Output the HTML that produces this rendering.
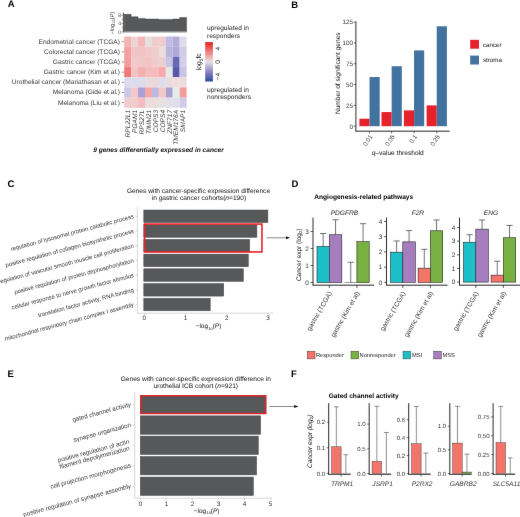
<!DOCTYPE html>
<html><head><meta charset="utf-8"><style>
html,body{margin:0;padding:0;background:#fff;}
svg{display:block;will-change:transform;}
text{font-family:"Liberation Sans",sans-serif;text-rendering:geometricPrecision;}
</style></head><body>
<svg width="520" height="517" viewBox="0 0 520 517">
<defs><filter id="soft" x="0" y="0" width="520" height="517" filterUnits="userSpaceOnUse"><feConvolveMatrix order="3" kernelMatrix="0.00163 0.03713 0.00163 0.03713 0.84497 0.03713 0.00163 0.03713 0.00163" divisor="1" edgeMode="none" preserveAlpha="false"/></filter></defs>
<rect width="520" height="517" fill="#fff"/>
<g filter="url(#soft)">
<text x="7.80" y="6.50" font-size="9.5" text-anchor="start" fill="#000" font-weight="bold">A</text>
<text x="291.20" y="8.20" font-size="9.5" text-anchor="start" fill="#000" font-weight="bold">B</text>
<text x="7.40" y="187.10" font-size="9.5" text-anchor="start" fill="#000" font-weight="bold">C</text>
<text x="291.50" y="187.10" font-size="9.5" text-anchor="start" fill="#000" font-weight="bold">D</text>
<text x="7.60" y="376.90" font-size="9.5" text-anchor="start" fill="#000" font-weight="bold">E</text>
<text x="290.90" y="377.30" font-size="9.5" text-anchor="start" fill="#000" font-weight="bold">F</text>
<rect x="124.20" y="36.55" width="6.98" height="10.23" fill="#f4b4b4"/>
<rect x="131.13" y="36.55" width="6.98" height="10.23" fill="#ecd4d4"/>
<rect x="138.06" y="36.55" width="6.98" height="10.23" fill="#f4b8b8"/>
<rect x="144.99" y="36.55" width="6.98" height="10.23" fill="#e4e0e0"/>
<rect x="151.92" y="36.55" width="6.98" height="10.23" fill="#f0cccc"/>
<rect x="158.85" y="36.55" width="6.98" height="10.23" fill="#f0cccc"/>
<rect x="165.78" y="36.55" width="6.98" height="10.23" fill="#c0bce4"/>
<rect x="172.71" y="36.55" width="6.98" height="10.23" fill="#b4acdc"/>
<rect x="179.64" y="36.55" width="6.98" height="10.23" fill="#dcdcec"/>
<rect x="124.20" y="46.73" width="6.98" height="10.23" fill="#f4a0a0"/>
<rect x="131.13" y="46.73" width="6.98" height="10.23" fill="#f4c4c4"/>
<rect x="138.06" y="46.73" width="6.98" height="10.23" fill="#f0c4c4"/>
<rect x="144.99" y="46.73" width="6.98" height="10.23" fill="#f0c8c8"/>
<rect x="151.92" y="46.73" width="6.98" height="10.23" fill="#f0cccc"/>
<rect x="158.85" y="46.73" width="6.98" height="10.23" fill="#ecdcdc"/>
<rect x="165.78" y="46.73" width="6.98" height="10.23" fill="#b8b4dc"/>
<rect x="172.71" y="46.73" width="6.98" height="10.23" fill="#b0a8d8"/>
<rect x="179.64" y="46.73" width="6.98" height="10.23" fill="#d0cce8"/>
<rect x="124.20" y="56.91" width="6.98" height="10.23" fill="#f49c9c"/>
<rect x="131.13" y="56.91" width="6.98" height="10.23" fill="#f4c8c8"/>
<rect x="138.06" y="56.91" width="6.98" height="10.23" fill="#f0c8c8"/>
<rect x="144.99" y="56.91" width="6.98" height="10.23" fill="#f4c4c4"/>
<rect x="151.92" y="56.91" width="6.98" height="10.23" fill="#f0cccc"/>
<rect x="158.85" y="56.91" width="6.98" height="10.23" fill="#ecd0d0"/>
<rect x="165.78" y="56.91" width="6.98" height="10.23" fill="#c8c4e4"/>
<rect x="172.71" y="56.91" width="6.98" height="10.23" fill="#6868b8"/>
<rect x="179.64" y="56.91" width="6.98" height="10.23" fill="#d4d0ec"/>
<rect x="124.20" y="67.09" width="6.98" height="10.23" fill="#f07878"/>
<rect x="131.13" y="67.09" width="6.98" height="10.23" fill="#f4c4c4"/>
<rect x="138.06" y="67.09" width="6.98" height="10.23" fill="#f4b0b0"/>
<rect x="144.99" y="67.09" width="6.98" height="10.23" fill="#f4bcbc"/>
<rect x="151.92" y="67.09" width="6.98" height="10.23" fill="#f4bcbc"/>
<rect x="158.85" y="67.09" width="6.98" height="10.23" fill="#f8a8a8"/>
<rect x="165.78" y="67.09" width="6.98" height="10.23" fill="#e8e8e8"/>
<rect x="172.71" y="67.09" width="6.98" height="10.23" fill="#5858a8"/>
<rect x="179.64" y="67.09" width="6.98" height="10.23" fill="#c8c4e4"/>
<rect x="124.20" y="77.27" width="6.98" height="10.23" fill="#dcdcec"/>
<rect x="131.13" y="77.27" width="6.98" height="10.23" fill="#dcdcec"/>
<rect x="138.06" y="77.27" width="6.98" height="10.23" fill="#dcdcec"/>
<rect x="144.99" y="77.27" width="6.98" height="10.23" fill="#e8dcdc"/>
<rect x="151.92" y="77.27" width="6.98" height="10.23" fill="#ecd8d8"/>
<rect x="158.85" y="77.27" width="6.98" height="10.23" fill="#dcdcec"/>
<rect x="165.78" y="77.27" width="6.98" height="10.23" fill="#e8dcdc"/>
<rect x="172.71" y="77.27" width="6.98" height="10.23" fill="#f0dcdc"/>
<rect x="179.64" y="77.27" width="6.98" height="10.23" fill="#ecdcdc"/>
<rect x="124.20" y="87.45" width="6.98" height="10.23" fill="#ccc8e8"/>
<rect x="131.13" y="87.45" width="6.98" height="10.23" fill="#f4c8c8"/>
<rect x="138.06" y="87.45" width="6.98" height="10.23" fill="#a8a0d8"/>
<rect x="144.99" y="87.45" width="6.98" height="10.23" fill="#f4a8a8"/>
<rect x="151.92" y="87.45" width="6.98" height="10.23" fill="#c0b8e4"/>
<rect x="158.85" y="87.45" width="6.98" height="10.23" fill="#f4c8c8"/>
<rect x="165.78" y="87.45" width="6.98" height="10.23" fill="#a8a0d0"/>
<rect x="172.71" y="87.45" width="6.98" height="10.23" fill="#e4ece8"/>
<rect x="179.64" y="87.45" width="6.98" height="10.23" fill="#f49c9c"/>
<rect x="124.20" y="97.63" width="6.98" height="10.23" fill="#f0cccc"/>
<rect x="131.13" y="97.63" width="6.98" height="10.23" fill="#f0cccc"/>
<rect x="138.06" y="97.63" width="6.98" height="10.23" fill="#f4bcbc"/>
<rect x="144.99" y="97.63" width="6.98" height="10.23" fill="#ecdcdc"/>
<rect x="151.92" y="97.63" width="6.98" height="10.23" fill="#ecdcdc"/>
<rect x="158.85" y="97.63" width="6.98" height="10.23" fill="#e8e0e0"/>
<rect x="165.78" y="97.63" width="6.98" height="10.23" fill="#e4e0e8"/>
<rect x="172.71" y="97.63" width="6.98" height="10.23" fill="#e0e0ec"/>
<rect x="179.64" y="97.63" width="6.98" height="10.23" fill="#d0cce8"/>
<text x="119.90" y="43.59" font-size="6.6" text-anchor="end" fill="#383838">Endometrial cancer (TCGA)</text>
<line x1="121.90" y1="41.64" x2="124.00" y2="41.64" stroke="#444" stroke-width="0.6"/>
<text x="119.90" y="53.77" font-size="6.6" text-anchor="end" fill="#383838">Colorectal cancer (TCGA)</text>
<line x1="121.90" y1="51.82" x2="124.00" y2="51.82" stroke="#444" stroke-width="0.6"/>
<text x="119.90" y="63.95" font-size="6.6" text-anchor="end" fill="#383838">Gastric cancer (TCGA)</text>
<line x1="121.90" y1="62.00" x2="124.00" y2="62.00" stroke="#444" stroke-width="0.6"/>
<text x="119.90" y="74.13" font-size="6.6" text-anchor="end" fill="#383838">Gastric cancer (Kim et al.)</text>
<line x1="121.90" y1="72.18" x2="124.00" y2="72.18" stroke="#444" stroke-width="0.6"/>
<text x="119.90" y="84.31" font-size="6.6" text-anchor="end" fill="#383838">Urothelial cancer (Mariathasan et al.)</text>
<line x1="121.90" y1="82.36" x2="124.00" y2="82.36" stroke="#444" stroke-width="0.6"/>
<text x="119.90" y="94.49" font-size="6.6" text-anchor="end" fill="#383838">Melanoma (Gide et al.)</text>
<line x1="121.90" y1="92.54" x2="124.00" y2="92.54" stroke="#444" stroke-width="0.6"/>
<text x="119.90" y="104.67" font-size="6.6" text-anchor="end" fill="#383838">Melanoma (Liu et al.)</text>
<line x1="121.90" y1="102.72" x2="124.00" y2="102.72" stroke="#444" stroke-width="0.6"/>
<text x="129.97" y="109.90" font-size="6.6" text-anchor="end" fill="#383838" font-style="italic" transform="rotate(-90 129.97 109.90)">RPL22L1</text>
<text x="136.90" y="109.90" font-size="6.6" text-anchor="end" fill="#383838" font-style="italic" transform="rotate(-90 136.90 109.90)">PGAM1</text>
<text x="143.83" y="109.90" font-size="6.6" text-anchor="end" fill="#383838" font-style="italic" transform="rotate(-90 143.83 109.90)">RPS27L</text>
<text x="150.76" y="109.90" font-size="6.6" text-anchor="end" fill="#383838" font-style="italic" transform="rotate(-90 150.76 109.90)">TIMM21</text>
<text x="157.69" y="109.90" font-size="6.6" text-anchor="end" fill="#383838" font-style="italic" transform="rotate(-90 157.69 109.90)">COPS3</text>
<text x="164.62" y="109.90" font-size="6.6" text-anchor="end" fill="#383838" font-style="italic" transform="rotate(-90 164.62 109.90)">COPS4</text>
<text x="171.55" y="109.90" font-size="6.6" text-anchor="end" fill="#383838" font-style="italic" transform="rotate(-90 171.55 109.90)">ZNF717</text>
<text x="178.48" y="109.90" font-size="6.6" text-anchor="end" fill="#383838" font-style="italic" transform="rotate(-90 178.48 109.90)">TMEM176A</text>
<text x="185.41" y="109.90" font-size="6.6" text-anchor="end" fill="#383838" font-style="italic" transform="rotate(-90 185.41 109.90)">SMAP1</text>
<polygon points="124.20,31.90 124.20,14.32 131.13,14.32 131.13,16.82 138.06,16.82 138.06,18.38 144.99,18.38 144.99,19.00 151.92,19.00 151.92,19.00 158.85,19.00 158.85,19.42 165.78,19.42 165.78,19.42 172.71,19.42 172.71,19.00 179.64,19.00 179.64,17.55 186.57,17.55 186.57,31.90" fill="#57585a" stroke="#333" stroke-width="0.4"/>
<line x1="124.20" y1="31.70" x2="186.57" y2="31.70" stroke="#8a8a8a" stroke-width="1.3"/>
<line x1="123.40" y1="12.80" x2="123.40" y2="32.50" stroke="#222" stroke-width="0.8"/>
<line x1="121.60" y1="31.90" x2="123.40" y2="31.90" stroke="#444" stroke-width="0.5"/>
<line x1="121.60" y1="27.74" x2="123.40" y2="27.74" stroke="#444" stroke-width="0.5"/>
<line x1="121.60" y1="23.58" x2="123.40" y2="23.58" stroke="#444" stroke-width="0.5"/>
<line x1="121.60" y1="19.42" x2="123.40" y2="19.42" stroke="#444" stroke-width="0.5"/>
<line x1="121.60" y1="15.26" x2="123.40" y2="15.26" stroke="#444" stroke-width="0.5"/>
<text x="121.00" y="33.70" font-size="5.0" text-anchor="end" fill="#383838">0</text>
<text x="121.00" y="25.38" font-size="5.0" text-anchor="end" fill="#383838">4</text>
<text x="121.00" y="17.06" font-size="5.0" text-anchor="end" fill="#383838">8</text>
<text x="113.90" y="23.20" font-size="5.6" text-anchor="middle" fill="#383838" transform="rotate(-90 113.90 23.20)">−log<tspan font-size="4" dy="1.2">10</tspan><tspan dy="-1.2">(</tspan><tspan font-style="italic">P</tspan>)</text>
<text x="158.50" y="151.90" font-size="6.6" text-anchor="middle" fill="#111" font-weight="bold" font-style="italic">9 genes differentially expressed in cancer</text>
<text x="207.00" y="30.00" font-size="6.6" text-anchor="start" fill="#1e1e1e">upregulated in</text>
<text x="207.00" y="37.70" font-size="6.6" text-anchor="start" fill="#1e1e1e">responders</text>
<text x="207.00" y="91.90" font-size="6.6" text-anchor="start" fill="#1e1e1e">upregulated in</text>
<text x="207.00" y="99.30" font-size="6.6" text-anchor="start" fill="#1e1e1e">nonresponders</text>
<defs><linearGradient id="cb" x1="0" y1="0" x2="0" y2="1"><stop offset="0" stop-color="#e41f22"/><stop offset="0.25" stop-color="#ee8080"/><stop offset="0.5" stop-color="#e8e0e4"/><stop offset="0.75" stop-color="#8c84c4"/><stop offset="1" stop-color="#2f4aa0"/></linearGradient></defs>
<rect x="205.20" y="42.10" width="7.70" height="39.40" fill="url(#cb)"/>
<text x="220.20" y="48.70" font-size="6.6" text-anchor="middle" fill="#222" transform="rotate(-90 220.20 48.70)">4</text>
<text x="220.20" y="61.80" font-size="6.6" text-anchor="middle" fill="#222" transform="rotate(-90 220.20 61.80)">0</text>
<text x="220.20" y="76.60" font-size="6.6" text-anchor="middle" fill="#222" transform="rotate(-90 220.20 76.60)">−4</text>
<text x="201.20" y="61.80" font-size="6.8" text-anchor="middle" fill="#111" transform="rotate(-90 201.20 61.80)">log<tspan font-size="4.8" dy="1.4">2</tspan><tspan dy="-1.4">fc</tspan></text>
<line x1="355.90" y1="21.50" x2="355.90" y2="131.20" stroke="#151515" stroke-width="0.9"/>
<line x1="355.45" y1="131.20" x2="449.70" y2="131.20" stroke="#151515" stroke-width="0.9"/>
<line x1="353.70" y1="126.20" x2="355.90" y2="126.20" stroke="#151515" stroke-width="0.6"/>
<text x="353.10" y="128.50" font-size="6.35" text-anchor="end" fill="#383838">0</text>
<line x1="353.70" y1="105.38" x2="355.90" y2="105.38" stroke="#151515" stroke-width="0.6"/>
<text x="353.10" y="107.68" font-size="6.35" text-anchor="end" fill="#383838">25</text>
<line x1="353.70" y1="84.56" x2="355.90" y2="84.56" stroke="#151515" stroke-width="0.6"/>
<text x="353.10" y="86.86" font-size="6.35" text-anchor="end" fill="#383838">50</text>
<line x1="353.70" y1="63.74" x2="355.90" y2="63.74" stroke="#151515" stroke-width="0.6"/>
<text x="353.10" y="66.04" font-size="6.35" text-anchor="end" fill="#383838">75</text>
<line x1="353.70" y1="42.92" x2="355.90" y2="42.92" stroke="#151515" stroke-width="0.6"/>
<text x="353.10" y="45.22" font-size="6.35" text-anchor="end" fill="#383838">100</text>
<line x1="353.70" y1="22.10" x2="355.90" y2="22.10" stroke="#151515" stroke-width="0.6"/>
<text x="353.10" y="24.40" font-size="6.35" text-anchor="end" fill="#383838">125</text>
<rect x="359.40" y="118.70" width="10.15" height="7.50" fill="#e7212b"/>
<rect x="369.55" y="77.06" width="10.15" height="49.14" fill="#42729f"/>
<rect x="381.50" y="112.04" width="10.15" height="14.16" fill="#e7212b"/>
<rect x="391.65" y="66.24" width="10.15" height="59.96" fill="#42729f"/>
<rect x="403.90" y="110.38" width="10.15" height="15.82" fill="#e7212b"/>
<rect x="414.05" y="50.42" width="10.15" height="75.78" fill="#42729f"/>
<rect x="426.60" y="105.38" width="10.15" height="20.82" fill="#e7212b"/>
<rect x="436.75" y="26.26" width="10.15" height="99.94" fill="#42729f"/>
<line x1="369.55" y1="131.20" x2="369.55" y2="133.40" stroke="#151515" stroke-width="0.6"/>
<text x="372.95" y="136.60" font-size="6.2" text-anchor="end" fill="#383838" transform="rotate(-56 372.95 136.60)">0.01</text>
<line x1="391.65" y1="131.20" x2="391.65" y2="133.40" stroke="#151515" stroke-width="0.6"/>
<text x="395.05" y="136.60" font-size="6.2" text-anchor="end" fill="#383838" transform="rotate(-56 395.05 136.60)">0.05</text>
<line x1="414.05" y1="131.20" x2="414.05" y2="133.40" stroke="#151515" stroke-width="0.6"/>
<text x="417.45" y="136.60" font-size="6.2" text-anchor="end" fill="#383838" transform="rotate(-56 417.45 136.60)">0.1</text>
<line x1="436.75" y1="131.20" x2="436.75" y2="133.40" stroke="#151515" stroke-width="0.6"/>
<text x="440.15" y="136.60" font-size="6.2" text-anchor="end" fill="#383838" transform="rotate(-56 440.15 136.60)">0.25</text>
<text x="397.70" y="154.60" font-size="6.6" text-anchor="middle" fill="#111"><tspan font-style="italic">q</tspan>–value threshold</text>
<text x="339.80" y="73.20" font-size="6.6" text-anchor="middle" fill="#111" transform="rotate(-90 339.80 73.20)">Number of significant genes</text>
<rect x="470.20" y="39.80" width="8.80" height="8.90" fill="#e7212b"/>
<rect x="470.20" y="55.60" width="8.80" height="8.90" fill="#42729f"/>
<text x="483.00" y="46.50" font-size="6.2" text-anchor="start" fill="#111">cancer</text>
<text x="483.00" y="62.30" font-size="6.2" text-anchor="start" fill="#111">stroma</text>
<line x1="137.40" y1="207.40" x2="137.40" y2="313.20" stroke="#bdbdbd" stroke-width="0.6"/>
<line x1="137.40" y1="313.20" x2="273.60" y2="313.20" stroke="#bdbdbd" stroke-width="0.6"/>
<rect x="143.80" y="210.00" width="124.10" height="12.60" fill="#57585a" stroke="#48494b" stroke-width="0.5"/>
<line x1="135.60" y1="216.30" x2="137.40" y2="216.30" stroke="#bdbdbd" stroke-width="0.6"/>
<text x="134.20" y="218.10" font-size="5.9" text-anchor="end" fill="#383838" transform="rotate(-15 134.20 218.10)">regulation of lysosomal protein catabolic process</text>
<rect x="143.80" y="224.70" width="113.10" height="12.60" fill="#57585a" stroke="#48494b" stroke-width="0.5"/>
<line x1="135.60" y1="231.00" x2="137.40" y2="231.00" stroke="#bdbdbd" stroke-width="0.6"/>
<text x="134.20" y="232.80" font-size="5.9" text-anchor="end" fill="#383838" transform="rotate(-15 134.20 232.80)">positive regulation of collagen biosynthetic process</text>
<rect x="143.80" y="239.40" width="105.90" height="12.60" fill="#57585a" stroke="#48494b" stroke-width="0.5"/>
<line x1="135.60" y1="245.70" x2="137.40" y2="245.70" stroke="#bdbdbd" stroke-width="0.6"/>
<text x="134.20" y="247.50" font-size="5.9" text-anchor="end" fill="#383838" transform="rotate(-15 134.20 247.50)">regulation of vascular smooth muscle cell proliferation</text>
<rect x="143.80" y="254.10" width="104.50" height="12.60" fill="#57585a" stroke="#48494b" stroke-width="0.5"/>
<line x1="135.60" y1="260.40" x2="137.40" y2="260.40" stroke="#bdbdbd" stroke-width="0.6"/>
<text x="134.20" y="262.20" font-size="5.9" text-anchor="end" fill="#383838" transform="rotate(-15 134.20 262.20)">positive regulation of protein dephosphorylation</text>
<rect x="143.80" y="268.80" width="99.60" height="12.60" fill="#57585a" stroke="#48494b" stroke-width="0.5"/>
<line x1="135.60" y1="275.10" x2="137.40" y2="275.10" stroke="#bdbdbd" stroke-width="0.6"/>
<text x="134.20" y="276.90" font-size="5.9" text-anchor="end" fill="#383838" transform="rotate(-15 134.20 276.90)">cellular response to nerve growth factor stimulus</text>
<rect x="143.80" y="283.50" width="79.90" height="12.60" fill="#57585a" stroke="#48494b" stroke-width="0.5"/>
<line x1="135.60" y1="289.80" x2="137.40" y2="289.80" stroke="#bdbdbd" stroke-width="0.6"/>
<text x="134.20" y="291.60" font-size="5.9" text-anchor="end" fill="#383838" transform="rotate(-15 134.20 291.60)">translation factor activity, RNA binding</text>
<rect x="143.80" y="298.20" width="66.40" height="12.60" fill="#57585a" stroke="#48494b" stroke-width="0.5"/>
<line x1="135.60" y1="304.50" x2="137.40" y2="304.50" stroke="#bdbdbd" stroke-width="0.6"/>
<text x="134.20" y="306.30" font-size="5.9" text-anchor="end" fill="#383838" transform="rotate(-15 134.20 306.30)">mitochondrial respiratory chain complex I assembly</text>
<line x1="144.40" y1="313.20" x2="144.40" y2="315.00" stroke="#bdbdbd" stroke-width="0.6"/>
<text x="144.40" y="320.20" font-size="6.4" text-anchor="middle" fill="#383838">0</text>
<line x1="185.60" y1="313.20" x2="185.60" y2="315.00" stroke="#bdbdbd" stroke-width="0.6"/>
<text x="185.60" y="320.20" font-size="6.4" text-anchor="middle" fill="#383838">1</text>
<line x1="226.80" y1="313.20" x2="226.80" y2="315.00" stroke="#bdbdbd" stroke-width="0.6"/>
<text x="226.80" y="320.20" font-size="6.4" text-anchor="middle" fill="#383838">2</text>
<line x1="268.00" y1="313.20" x2="268.00" y2="315.00" stroke="#bdbdbd" stroke-width="0.6"/>
<text x="268.00" y="320.20" font-size="6.4" text-anchor="middle" fill="#383838">3</text>
<text x="208.50" y="327.80" font-size="6.4" text-anchor="middle" fill="#111">−log<tspan font-size="3.9" dx="0.4" dy="1.9">10</tspan><tspan dy="-1.9">(</tspan><tspan font-style="italic">P</tspan>)</text>
<text x="198.50" y="192.90" font-size="6.6" text-anchor="middle" fill="#111">Genes with cancer-specific expression difference</text>
<text x="198.90" y="199.70" font-size="6.6" text-anchor="middle" fill="#111">in gastric cancer cohorts(<tspan font-style="italic">n</tspan>=190)</text>
<rect x="144.55" y="224.05" width="117.4" height="27.9" fill="none" stroke="#ec1c24" stroke-width="1.55"/>
<defs><marker id="ah" markerWidth="6" markerHeight="6" refX="3.8" refY="3" orient="auto" markerUnits="userSpaceOnUse"><path d="M0,1.4 L4.0,3 L0,4.6 z" fill="#111"/></marker></defs>
<line x1="266.5" y1="237.8" x2="289.4" y2="237.8" stroke="#666" stroke-width="0.75" marker-end="url(#ah)"/>
<text x="314.25" y="198.50" font-size="6.6" text-anchor="start" fill="#000" font-weight="bold">Angiogenesis-related pathways</text>
<line x1="313.00" y1="217.60" x2="313.00" y2="285.20" stroke="#151515" stroke-width="0.9"/>
<line x1="312.55" y1="285.20" x2="374.00" y2="285.20" stroke="#151515" stroke-width="0.9"/>
<line x1="310.60" y1="282.50" x2="313.00" y2="282.50" stroke="#151515" stroke-width="0.7"/>
<text x="308.70" y="284.80" font-size="6.4" text-anchor="end" fill="#383838">0</text>
<line x1="310.60" y1="265.50" x2="313.00" y2="265.50" stroke="#151515" stroke-width="0.7"/>
<text x="308.70" y="267.80" font-size="6.4" text-anchor="end" fill="#383838">1</text>
<line x1="310.60" y1="248.50" x2="313.00" y2="248.50" stroke="#151515" stroke-width="0.7"/>
<text x="308.70" y="250.80" font-size="6.4" text-anchor="end" fill="#383838">2</text>
<line x1="310.60" y1="231.50" x2="313.00" y2="231.50" stroke="#151515" stroke-width="0.7"/>
<text x="308.70" y="233.80" font-size="6.4" text-anchor="end" fill="#383838">3</text>
<line x1="323.15" y1="246.46" x2="323.15" y2="233.54" stroke="#3a3a3a" stroke-width="0.7"/>
<line x1="320.05" y1="233.54" x2="326.25" y2="233.54" stroke="#3a3a3a" stroke-width="0.7"/>
<rect x="317.00" y="246.46" width="12.30" height="36.04" fill="#1cbfc7" stroke="#222" stroke-width="0.6"/>
<line x1="335.55" y1="234.73" x2="335.55" y2="219.77" stroke="#3a3a3a" stroke-width="0.7"/>
<line x1="332.45" y1="219.77" x2="338.65" y2="219.77" stroke="#3a3a3a" stroke-width="0.7"/>
<rect x="329.30" y="234.73" width="12.50" height="47.77" fill="#a67ebf" stroke="#222" stroke-width="0.6"/>
<line x1="350.75" y1="282.50" x2="350.75" y2="262.27" stroke="#3a3a3a" stroke-width="0.7"/>
<line x1="347.65" y1="262.27" x2="353.85" y2="262.27" stroke="#3a3a3a" stroke-width="0.7"/>
<line x1="344.60" y1="282.50" x2="356.90" y2="282.50" stroke="#222" stroke-width="0.45"/>
<line x1="363.05" y1="241.70" x2="363.05" y2="223.68" stroke="#3a3a3a" stroke-width="0.7"/>
<line x1="359.95" y1="223.68" x2="366.15" y2="223.68" stroke="#3a3a3a" stroke-width="0.7"/>
<rect x="356.90" y="241.70" width="12.30" height="40.80" fill="#78b042" stroke="#222" stroke-width="0.6"/>
<text x="344.40" y="215.30" font-size="6.6" text-anchor="middle" fill="#222" font-style="italic">PDGFRB</text>
<line x1="329.30" y1="285.20" x2="329.30" y2="287.90" stroke="#151515" stroke-width="0.7"/>
<text x="332.20" y="293.20" font-size="6.6" text-anchor="end" fill="#383838" transform="rotate(-60 332.20 293.20)">gastric (TCGA)</text>
<line x1="356.90" y1="285.20" x2="356.90" y2="287.90" stroke="#151515" stroke-width="0.7"/>
<text x="359.80" y="293.20" font-size="6.6" text-anchor="end" fill="#383838" transform="rotate(-60 359.80 293.20)">gastric (Kim et al)</text>
<line x1="386.50" y1="217.60" x2="386.50" y2="285.20" stroke="#151515" stroke-width="0.9"/>
<line x1="386.05" y1="285.20" x2="447.50" y2="285.20" stroke="#151515" stroke-width="0.9"/>
<line x1="384.10" y1="282.30" x2="386.50" y2="282.30" stroke="#151515" stroke-width="0.7"/>
<text x="382.20" y="284.60" font-size="6.4" text-anchor="end" fill="#383838">0</text>
<line x1="384.10" y1="267.10" x2="386.50" y2="267.10" stroke="#151515" stroke-width="0.7"/>
<text x="382.20" y="269.40" font-size="6.4" text-anchor="end" fill="#383838">1</text>
<line x1="384.10" y1="251.90" x2="386.50" y2="251.90" stroke="#151515" stroke-width="0.7"/>
<text x="382.20" y="254.20" font-size="6.4" text-anchor="end" fill="#383838">2</text>
<line x1="384.10" y1="236.70" x2="386.50" y2="236.70" stroke="#151515" stroke-width="0.7"/>
<text x="382.20" y="239.00" font-size="6.4" text-anchor="end" fill="#383838">3</text>
<line x1="384.10" y1="221.50" x2="386.50" y2="221.50" stroke="#151515" stroke-width="0.7"/>
<text x="382.20" y="223.80" font-size="6.4" text-anchor="end" fill="#383838">4</text>
<line x1="396.65" y1="252.20" x2="396.65" y2="240.96" stroke="#3a3a3a" stroke-width="0.7"/>
<line x1="393.55" y1="240.96" x2="399.75" y2="240.96" stroke="#3a3a3a" stroke-width="0.7"/>
<rect x="390.50" y="252.20" width="12.30" height="30.10" fill="#1cbfc7" stroke="#222" stroke-width="0.6"/>
<line x1="409.05" y1="241.87" x2="409.05" y2="230.62" stroke="#3a3a3a" stroke-width="0.7"/>
<line x1="405.95" y1="230.62" x2="412.15" y2="230.62" stroke="#3a3a3a" stroke-width="0.7"/>
<rect x="402.80" y="241.87" width="12.50" height="40.43" fill="#a67ebf" stroke="#222" stroke-width="0.6"/>
<line x1="424.25" y1="268.16" x2="424.25" y2="249.32" stroke="#3a3a3a" stroke-width="0.7"/>
<line x1="421.15" y1="249.32" x2="427.35" y2="249.32" stroke="#3a3a3a" stroke-width="0.7"/>
<rect x="418.10" y="268.16" width="12.30" height="14.14" fill="#f3746b" stroke="#222" stroke-width="0.6"/>
<line x1="436.55" y1="230.77" x2="436.55" y2="219.98" stroke="#3a3a3a" stroke-width="0.7"/>
<line x1="433.45" y1="219.98" x2="439.65" y2="219.98" stroke="#3a3a3a" stroke-width="0.7"/>
<rect x="430.40" y="230.77" width="12.30" height="51.53" fill="#78b042" stroke="#222" stroke-width="0.6"/>
<text x="417.90" y="215.30" font-size="6.6" text-anchor="middle" fill="#222" font-style="italic">F2R</text>
<line x1="402.80" y1="285.20" x2="402.80" y2="287.90" stroke="#151515" stroke-width="0.7"/>
<text x="405.70" y="293.20" font-size="6.6" text-anchor="end" fill="#383838" transform="rotate(-60 405.70 293.20)">gastric (TCGA)</text>
<line x1="430.40" y1="285.20" x2="430.40" y2="287.90" stroke="#151515" stroke-width="0.7"/>
<text x="433.30" y="293.20" font-size="6.6" text-anchor="end" fill="#383838" transform="rotate(-60 433.30 293.20)">gastric (Kim et al)</text>
<line x1="459.50" y1="217.60" x2="459.50" y2="285.20" stroke="#151515" stroke-width="0.9"/>
<line x1="459.05" y1="285.20" x2="520.00" y2="285.20" stroke="#151515" stroke-width="0.9"/>
<line x1="457.10" y1="282.10" x2="459.50" y2="282.10" stroke="#151515" stroke-width="0.7"/>
<text x="455.20" y="284.40" font-size="6.4" text-anchor="end" fill="#383838">0</text>
<line x1="457.10" y1="268.45" x2="459.50" y2="268.45" stroke="#151515" stroke-width="0.7"/>
<text x="455.20" y="270.75" font-size="6.4" text-anchor="end" fill="#383838">1</text>
<line x1="457.10" y1="254.80" x2="459.50" y2="254.80" stroke="#151515" stroke-width="0.7"/>
<text x="455.20" y="257.10" font-size="6.4" text-anchor="end" fill="#383838">2</text>
<line x1="457.10" y1="241.15" x2="459.50" y2="241.15" stroke="#151515" stroke-width="0.7"/>
<text x="455.20" y="243.45" font-size="6.4" text-anchor="end" fill="#383838">3</text>
<line x1="457.10" y1="227.50" x2="459.50" y2="227.50" stroke="#151515" stroke-width="0.7"/>
<text x="455.20" y="229.80" font-size="6.4" text-anchor="end" fill="#383838">4</text>
<line x1="469.65" y1="242.24" x2="469.65" y2="234.73" stroke="#3a3a3a" stroke-width="0.7"/>
<line x1="466.55" y1="234.73" x2="472.75" y2="234.73" stroke="#3a3a3a" stroke-width="0.7"/>
<rect x="463.50" y="242.24" width="12.30" height="39.86" fill="#1cbfc7" stroke="#222" stroke-width="0.6"/>
<line x1="482.05" y1="229.14" x2="482.05" y2="219.99" stroke="#3a3a3a" stroke-width="0.7"/>
<line x1="478.95" y1="219.99" x2="485.15" y2="219.99" stroke="#3a3a3a" stroke-width="0.7"/>
<rect x="475.80" y="229.14" width="12.50" height="52.96" fill="#a67ebf" stroke="#222" stroke-width="0.6"/>
<line x1="497.25" y1="275.14" x2="497.25" y2="261.22" stroke="#3a3a3a" stroke-width="0.7"/>
<line x1="494.15" y1="261.22" x2="500.35" y2="261.22" stroke="#3a3a3a" stroke-width="0.7"/>
<rect x="491.10" y="275.14" width="12.30" height="6.96" fill="#f3746b" stroke="#222" stroke-width="0.6"/>
<line x1="509.55" y1="237.74" x2="509.55" y2="225.45" stroke="#3a3a3a" stroke-width="0.7"/>
<line x1="506.45" y1="225.45" x2="512.65" y2="225.45" stroke="#3a3a3a" stroke-width="0.7"/>
<rect x="503.40" y="237.74" width="12.30" height="44.36" fill="#78b042" stroke="#222" stroke-width="0.6"/>
<text x="490.90" y="215.30" font-size="6.6" text-anchor="middle" fill="#222" font-style="italic">ENG</text>
<line x1="475.80" y1="285.20" x2="475.80" y2="287.90" stroke="#151515" stroke-width="0.7"/>
<text x="478.70" y="293.20" font-size="6.6" text-anchor="end" fill="#383838" transform="rotate(-60 478.70 293.20)">gastric (TCGA)</text>
<line x1="503.40" y1="285.20" x2="503.40" y2="287.90" stroke="#151515" stroke-width="0.7"/>
<text x="506.30" y="293.20" font-size="6.6" text-anchor="end" fill="#383838" transform="rotate(-60 506.30 293.20)">gastric (Kim et al)</text>
<text x="300.60" y="254.80" font-size="6.5" text-anchor="middle" fill="#111" transform="rotate(-90 300.60 254.80)">Cancer expr (log<tspan font-size="4.3" dy="1.3">2</tspan><tspan dy="-1.3">)</tspan></text>
<rect x="307.30" y="351.20" width="7.70" height="7.70" fill="#f3746b" stroke="#333" stroke-width="0.45"/>
<text x="316.00" y="357.30" font-size="5.7" text-anchor="start" fill="#222">Responder</text>
<rect x="351.00" y="351.20" width="7.70" height="7.70" fill="#78b042" stroke="#333" stroke-width="0.45"/>
<text x="359.60" y="357.30" font-size="5.7" text-anchor="start" fill="#222">Nonresponder</text>
<rect x="403.00" y="351.20" width="7.70" height="7.70" fill="#1cbfc7" stroke="#333" stroke-width="0.45"/>
<text x="411.90" y="357.30" font-size="5.7" text-anchor="start" fill="#222">MSI</text>
<rect x="433.70" y="351.20" width="7.70" height="7.70" fill="#a67ebf" stroke="#333" stroke-width="0.45"/>
<text x="442.50" y="357.30" font-size="5.7" text-anchor="start" fill="#222">MSS</text>
<line x1="134.70" y1="392.20" x2="134.70" y2="498.20" stroke="#bdbdbd" stroke-width="0.6"/>
<line x1="134.70" y1="498.20" x2="272.00" y2="498.20" stroke="#bdbdbd" stroke-width="0.6"/>
<rect x="140.30" y="395.45" width="125.80" height="18.40" fill="#57585a" stroke="#48494b" stroke-width="0.5"/>
<line x1="132.90" y1="404.65" x2="134.70" y2="404.65" stroke="#bdbdbd" stroke-width="0.6"/>
<text x="131.40" y="406.25" font-size="6.3" text-anchor="end" fill="#383838" transform="rotate(-15 131.40 406.25)">gated channel activity</text>
<rect x="140.30" y="415.85" width="120.30" height="18.40" fill="#57585a" stroke="#48494b" stroke-width="0.5"/>
<line x1="132.90" y1="425.05" x2="134.70" y2="425.05" stroke="#bdbdbd" stroke-width="0.6"/>
<text x="131.40" y="426.65" font-size="6.3" text-anchor="end" fill="#383838" transform="rotate(-15 131.40 426.65)">synapse organization</text>
<rect x="140.30" y="436.10" width="118.00" height="18.40" fill="#57585a" stroke="#48494b" stroke-width="0.5"/>
<line x1="132.90" y1="445.30" x2="134.70" y2="445.30" stroke="#bdbdbd" stroke-width="0.6"/>
<rect x="140.30" y="456.50" width="116.30" height="18.40" fill="#57585a" stroke="#48494b" stroke-width="0.5"/>
<line x1="132.90" y1="465.70" x2="134.70" y2="465.70" stroke="#bdbdbd" stroke-width="0.6"/>
<text x="131.40" y="467.30" font-size="6.3" text-anchor="end" fill="#383838" transform="rotate(-15 131.40 467.30)">cell projection morphogenesis</text>
<rect x="140.30" y="477.05" width="113.10" height="18.40" fill="#57585a" stroke="#48494b" stroke-width="0.5"/>
<line x1="132.90" y1="486.25" x2="134.70" y2="486.25" stroke="#bdbdbd" stroke-width="0.6"/>
<text x="131.40" y="487.85" font-size="6.3" text-anchor="end" fill="#383838" transform="rotate(-15 131.40 487.85)">positive regulation of synapse assembly</text>
<text x="131.40" y="486.25" font-size="6.3" text-anchor="start" fill="#383838"></text>
<text x="129.60" y="443.30" font-size="6.4" text-anchor="end" fill="#383838" transform="rotate(-15 129.60 443.30)">positive regulation of actin</text>
<text x="130.00" y="450.10" font-size="6.4" text-anchor="end" fill="#383838" transform="rotate(-15 130.00 450.10)">filament depolymerization</text>
<line x1="140.60" y1="498.20" x2="140.60" y2="500.00" stroke="#bdbdbd" stroke-width="0.6"/>
<text x="140.60" y="506.00" font-size="6.4" text-anchor="middle" fill="#383838">0</text>
<line x1="166.60" y1="498.20" x2="166.60" y2="500.00" stroke="#bdbdbd" stroke-width="0.6"/>
<text x="166.60" y="506.00" font-size="6.4" text-anchor="middle" fill="#383838">1</text>
<line x1="192.60" y1="498.20" x2="192.60" y2="500.00" stroke="#bdbdbd" stroke-width="0.6"/>
<text x="192.60" y="506.00" font-size="6.4" text-anchor="middle" fill="#383838">2</text>
<line x1="218.60" y1="498.20" x2="218.60" y2="500.00" stroke="#bdbdbd" stroke-width="0.6"/>
<text x="218.60" y="506.00" font-size="6.4" text-anchor="middle" fill="#383838">3</text>
<line x1="244.60" y1="498.20" x2="244.60" y2="500.00" stroke="#bdbdbd" stroke-width="0.6"/>
<text x="244.60" y="506.00" font-size="6.4" text-anchor="middle" fill="#383838">4</text>
<line x1="270.60" y1="498.20" x2="270.60" y2="500.00" stroke="#bdbdbd" stroke-width="0.6"/>
<text x="270.60" y="506.00" font-size="6.4" text-anchor="middle" fill="#383838">5</text>
<text x="206.60" y="512.50" font-size="6.4" text-anchor="middle" fill="#111">−log<tspan font-size="3.9" dx="0.4" dy="1.9">10</tspan><tspan dy="-1.9">(</tspan><tspan font-style="italic">P</tspan>)</text>
<text x="195.80" y="380.90" font-size="6.6" text-anchor="middle" fill="#111">Genes with cancer-specific expression difference in</text>
<text x="195.80" y="387.70" font-size="6.6" text-anchor="middle" fill="#111">urothelial ICB cohort (<tspan font-style="italic">n</tspan>=921)</text>
<rect x="140.9" y="395.8" width="124.6" height="17.7" fill="none" stroke="#ec1c24" stroke-width="1.3"/>
<line x1="269.4" y1="406.5" x2="298.0" y2="406.5" stroke="#666" stroke-width="0.75" marker-end="url(#ah)"/>
<text x="328.70" y="397.50" font-size="6.6" text-anchor="start" fill="#000" font-weight="bold">Gated channel activity</text>
<line x1="328.70" y1="403.20" x2="328.70" y2="474.60" stroke="#151515" stroke-width="0.9"/>
<line x1="328.25" y1="474.40" x2="350.70" y2="474.40" stroke="#151515" stroke-width="0.8"/>
<line x1="326.70" y1="473.40" x2="328.70" y2="473.40" stroke="#151515" stroke-width="0.6"/>
<text x="325.10" y="475.50" font-size="6.0" text-anchor="end" fill="#383838">0.0</text>
<line x1="326.70" y1="447.80" x2="328.70" y2="447.80" stroke="#151515" stroke-width="0.6"/>
<text x="325.10" y="449.90" font-size="6.0" text-anchor="end" fill="#383838">0.1</text>
<line x1="326.70" y1="422.20" x2="328.70" y2="422.20" stroke="#151515" stroke-width="0.6"/>
<text x="325.10" y="424.30" font-size="6.0" text-anchor="end" fill="#383838">0.2</text>
<line x1="336.35" y1="446.78" x2="336.35" y2="406.84" stroke="#4a4a4a" stroke-width="0.6"/>
<line x1="333.95" y1="406.84" x2="338.75" y2="406.84" stroke="#4a4a4a" stroke-width="0.6"/>
<rect x="331.60" y="446.78" width="9.50" height="26.62" fill="#f3746b" stroke="#333" stroke-width="0.45"/>
<line x1="345.85" y1="473.40" x2="345.85" y2="454.71" stroke="#4a4a4a" stroke-width="0.6"/>
<line x1="343.45" y1="454.71" x2="348.25" y2="454.71" stroke="#4a4a4a" stroke-width="0.6"/>
<line x1="341.10" y1="473.40" x2="350.60" y2="473.40" stroke="#555" stroke-width="0.45"/>
<text x="342.10" y="486.10" font-size="6.6" text-anchor="middle" fill="#333" font-style="italic">TRPM1</text>
<line x1="341.10" y1="474.40" x2="341.10" y2="476.60" stroke="#151515" stroke-width="0.6"/>
<line x1="369.20" y1="403.20" x2="369.20" y2="474.60" stroke="#151515" stroke-width="0.9"/>
<line x1="368.75" y1="474.40" x2="391.20" y2="474.40" stroke="#151515" stroke-width="0.8"/>
<line x1="367.20" y1="473.50" x2="369.20" y2="473.50" stroke="#151515" stroke-width="0.6"/>
<text x="365.60" y="475.60" font-size="6.0" text-anchor="end" fill="#383838">0.0</text>
<line x1="367.20" y1="448.80" x2="369.20" y2="448.80" stroke="#151515" stroke-width="0.6"/>
<text x="365.60" y="450.90" font-size="6.0" text-anchor="end" fill="#383838">0.5</text>
<line x1="367.20" y1="424.10" x2="369.20" y2="424.10" stroke="#151515" stroke-width="0.6"/>
<text x="365.60" y="426.20" font-size="6.0" text-anchor="end" fill="#383838">1.0</text>
<line x1="376.85" y1="461.35" x2="376.85" y2="406.32" stroke="#4a4a4a" stroke-width="0.6"/>
<line x1="374.45" y1="406.32" x2="379.25" y2="406.32" stroke="#4a4a4a" stroke-width="0.6"/>
<rect x="372.10" y="461.35" width="9.50" height="12.15" fill="#f3746b" stroke="#333" stroke-width="0.45"/>
<line x1="386.35" y1="473.50" x2="386.35" y2="432.50" stroke="#4a4a4a" stroke-width="0.6"/>
<line x1="383.95" y1="432.50" x2="388.75" y2="432.50" stroke="#4a4a4a" stroke-width="0.6"/>
<line x1="381.60" y1="473.50" x2="391.10" y2="473.50" stroke="#555" stroke-width="0.45"/>
<text x="382.60" y="486.10" font-size="6.6" text-anchor="middle" fill="#333" font-style="italic">JSRP1</text>
<line x1="381.60" y1="474.40" x2="381.60" y2="476.60" stroke="#151515" stroke-width="0.6"/>
<line x1="408.70" y1="403.20" x2="408.70" y2="474.60" stroke="#151515" stroke-width="0.9"/>
<line x1="408.25" y1="474.40" x2="430.70" y2="474.40" stroke="#151515" stroke-width="0.8"/>
<line x1="406.70" y1="473.50" x2="408.70" y2="473.50" stroke="#151515" stroke-width="0.6"/>
<text x="405.10" y="475.60" font-size="6.0" text-anchor="end" fill="#383838">0.0</text>
<line x1="406.70" y1="455.58" x2="408.70" y2="455.58" stroke="#151515" stroke-width="0.6"/>
<text x="405.10" y="457.68" font-size="6.0" text-anchor="end" fill="#383838">0.2</text>
<line x1="406.70" y1="437.66" x2="408.70" y2="437.66" stroke="#151515" stroke-width="0.6"/>
<text x="405.10" y="439.76" font-size="6.0" text-anchor="end" fill="#383838">0.4</text>
<line x1="406.70" y1="419.74" x2="408.70" y2="419.74" stroke="#151515" stroke-width="0.6"/>
<text x="405.10" y="421.84" font-size="6.0" text-anchor="end" fill="#383838">0.6</text>
<line x1="416.35" y1="443.75" x2="416.35" y2="406.48" stroke="#4a4a4a" stroke-width="0.6"/>
<line x1="413.95" y1="406.48" x2="418.75" y2="406.48" stroke="#4a4a4a" stroke-width="0.6"/>
<rect x="411.60" y="443.75" width="9.50" height="29.75" fill="#f3746b" stroke="#333" stroke-width="0.45"/>
<line x1="425.85" y1="473.50" x2="425.85" y2="453.07" stroke="#4a4a4a" stroke-width="0.6"/>
<line x1="423.45" y1="453.07" x2="428.25" y2="453.07" stroke="#4a4a4a" stroke-width="0.6"/>
<line x1="421.10" y1="473.50" x2="430.60" y2="473.50" stroke="#555" stroke-width="0.45"/>
<text x="422.10" y="486.10" font-size="6.6" text-anchor="middle" fill="#333" font-style="italic">P2RX2</text>
<line x1="421.10" y1="474.40" x2="421.10" y2="476.60" stroke="#151515" stroke-width="0.6"/>
<line x1="449.80" y1="403.20" x2="449.80" y2="474.60" stroke="#151515" stroke-width="0.9"/>
<line x1="449.35" y1="474.40" x2="471.80" y2="474.40" stroke="#151515" stroke-width="0.8"/>
<line x1="447.80" y1="473.50" x2="449.80" y2="473.50" stroke="#151515" stroke-width="0.6"/>
<text x="446.20" y="475.60" font-size="6.0" text-anchor="end" fill="#383838">0.0</text>
<line x1="447.80" y1="449.85" x2="449.80" y2="449.85" stroke="#151515" stroke-width="0.6"/>
<text x="446.20" y="451.95" font-size="6.0" text-anchor="end" fill="#383838">0.5</text>
<line x1="447.80" y1="426.20" x2="449.80" y2="426.20" stroke="#151515" stroke-width="0.6"/>
<text x="446.20" y="428.30" font-size="6.0" text-anchor="end" fill="#383838">1.0</text>
<line x1="457.45" y1="443.09" x2="457.45" y2="406.33" stroke="#4a4a4a" stroke-width="0.6"/>
<line x1="455.05" y1="406.33" x2="459.85" y2="406.33" stroke="#4a4a4a" stroke-width="0.6"/>
<rect x="452.70" y="443.09" width="9.50" height="30.41" fill="#f3746b" stroke="#333" stroke-width="0.45"/>
<line x1="466.95" y1="472.08" x2="466.95" y2="454.11" stroke="#4a4a4a" stroke-width="0.6"/>
<line x1="464.55" y1="454.11" x2="469.35" y2="454.11" stroke="#4a4a4a" stroke-width="0.6"/>
<rect x="462.20" y="472.08" width="9.50" height="1.42" fill="#78b042" stroke="#333" stroke-width="0.45"/>
<text x="463.20" y="486.10" font-size="6.6" text-anchor="middle" fill="#333" font-style="italic">GABRB2</text>
<line x1="462.20" y1="474.40" x2="462.20" y2="476.60" stroke="#151515" stroke-width="0.6"/>
<line x1="493.10" y1="403.20" x2="493.10" y2="474.60" stroke="#151515" stroke-width="0.9"/>
<line x1="492.65" y1="474.40" x2="515.10" y2="474.40" stroke="#151515" stroke-width="0.8"/>
<line x1="491.10" y1="473.50" x2="493.10" y2="473.50" stroke="#151515" stroke-width="0.6"/>
<text x="489.50" y="475.60" font-size="6.0" text-anchor="end" fill="#383838">0.00</text>
<line x1="491.10" y1="454.65" x2="493.10" y2="454.65" stroke="#151515" stroke-width="0.6"/>
<text x="489.50" y="456.75" font-size="6.0" text-anchor="end" fill="#383838">0.25</text>
<line x1="491.10" y1="435.80" x2="493.10" y2="435.80" stroke="#151515" stroke-width="0.6"/>
<text x="489.50" y="437.90" font-size="6.0" text-anchor="end" fill="#383838">0.50</text>
<line x1="491.10" y1="416.95" x2="493.10" y2="416.95" stroke="#151515" stroke-width="0.6"/>
<text x="489.50" y="419.05" font-size="6.0" text-anchor="end" fill="#383838">0.75</text>
<line x1="500.75" y1="442.59" x2="500.75" y2="406.39" stroke="#4a4a4a" stroke-width="0.6"/>
<line x1="498.35" y1="406.39" x2="503.15" y2="406.39" stroke="#4a4a4a" stroke-width="0.6"/>
<rect x="496.00" y="442.59" width="9.50" height="30.91" fill="#f3746b" stroke="#333" stroke-width="0.45"/>
<line x1="510.25" y1="473.50" x2="510.25" y2="457.89" stroke="#4a4a4a" stroke-width="0.6"/>
<line x1="507.85" y1="457.89" x2="512.65" y2="457.89" stroke="#4a4a4a" stroke-width="0.6"/>
<line x1="505.50" y1="473.50" x2="515.00" y2="473.50" stroke="#555" stroke-width="0.45"/>
<text x="506.50" y="486.10" font-size="6.6" text-anchor="middle" fill="#333" font-style="italic">SLC5A11</text>
<line x1="505.50" y1="474.40" x2="505.50" y2="476.60" stroke="#151515" stroke-width="0.6"/>
<text x="311.80" y="441.30" font-size="6.6" text-anchor="middle" fill="#111" font-style="italic" transform="rotate(-90 311.80 441.30)">Cancer expr (log<tspan font-size="4.6" dy="1.3">2</tspan><tspan dy="-1.3">)</tspan></text>
</g>
</svg></body></html>
